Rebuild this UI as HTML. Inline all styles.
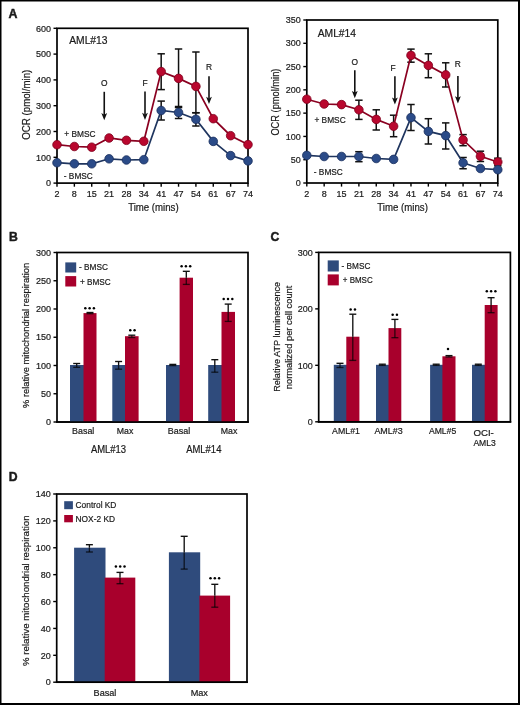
<!DOCTYPE html>
<html><head><meta charset="utf-8"><style>
html,body{margin:0;padding:0;background:#fff;}
svg{display:block;will-change:transform;font-family:"Liberation Sans", sans-serif;}
text{stroke:#1a1a1a;stroke-width:0.2px;}
</style></head><body>
<svg width="520" height="705" viewBox="0 0 520 705" font-family='"Liberation Sans", sans-serif' fill="#1a1a1a">
<rect x="0.00" y="0.00" width="520.00" height="705.00" fill="#ffffff"/>
<rect x="0.00" y="0.00" width="1.50" height="705.00" fill="#000"/>
<rect x="0.00" y="0.00" width="520.00" height="1.50" fill="#000"/>
<rect x="518.00" y="0.00" width="2.00" height="705.00" fill="#000"/>
<rect x="0.00" y="703.00" width="520.00" height="2.00" fill="#000"/>
<text x="8.50" y="17.60" font-size="12.4" text-anchor="start" font-weight="bold" style="stroke-width:0.45px">A</text>
<text x="9.00" y="241.30" font-size="12.2" text-anchor="start" font-weight="bold" style="stroke-width:0.45px">B</text>
<text x="270.60" y="241.30" font-size="12.2" text-anchor="start" font-weight="bold" style="stroke-width:0.45px">C</text>
<text x="8.80" y="480.90" font-size="12.2" text-anchor="start" font-weight="bold" style="stroke-width:0.45px">D</text>
<rect x="57.00" y="28.30" width="191.00" height="154.80" fill="none" stroke="#000" stroke-width="1.7"/>
<line x1="53.50" y1="183.10" x2="57.00" y2="183.10" stroke="#000" stroke-width="1.4"/>
<text x="51.00" y="186.30" font-size="9.0" text-anchor="end">0</text>
<line x1="53.50" y1="157.30" x2="57.00" y2="157.30" stroke="#000" stroke-width="1.4"/>
<text x="51.00" y="160.50" font-size="9.0" text-anchor="end">100</text>
<line x1="53.50" y1="131.50" x2="57.00" y2="131.50" stroke="#000" stroke-width="1.4"/>
<text x="51.00" y="134.70" font-size="9.0" text-anchor="end">200</text>
<line x1="53.50" y1="105.70" x2="57.00" y2="105.70" stroke="#000" stroke-width="1.4"/>
<text x="51.00" y="108.90" font-size="9.0" text-anchor="end">300</text>
<line x1="53.50" y1="79.90" x2="57.00" y2="79.90" stroke="#000" stroke-width="1.4"/>
<text x="51.00" y="83.10" font-size="9.0" text-anchor="end">400</text>
<line x1="53.50" y1="54.10" x2="57.00" y2="54.10" stroke="#000" stroke-width="1.4"/>
<text x="51.00" y="57.30" font-size="9.0" text-anchor="end">500</text>
<line x1="53.50" y1="28.30" x2="57.00" y2="28.30" stroke="#000" stroke-width="1.4"/>
<text x="51.00" y="31.50" font-size="9.0" text-anchor="end">600</text>
<line x1="57.00" y1="183.10" x2="57.00" y2="186.70" stroke="#000" stroke-width="1.4"/>
<text x="57.00" y="196.70" font-size="9.0" text-anchor="middle">2</text>
<line x1="74.36" y1="183.10" x2="74.36" y2="186.70" stroke="#000" stroke-width="1.4"/>
<text x="74.36" y="196.70" font-size="9.0" text-anchor="middle">8</text>
<line x1="91.73" y1="183.10" x2="91.73" y2="186.70" stroke="#000" stroke-width="1.4"/>
<text x="91.73" y="196.70" font-size="9.0" text-anchor="middle">15</text>
<line x1="109.09" y1="183.10" x2="109.09" y2="186.70" stroke="#000" stroke-width="1.4"/>
<text x="109.09" y="196.70" font-size="9.0" text-anchor="middle">21</text>
<line x1="126.45" y1="183.10" x2="126.45" y2="186.70" stroke="#000" stroke-width="1.4"/>
<text x="126.45" y="196.70" font-size="9.0" text-anchor="middle">28</text>
<line x1="143.82" y1="183.10" x2="143.82" y2="186.70" stroke="#000" stroke-width="1.4"/>
<text x="143.82" y="196.70" font-size="9.0" text-anchor="middle">34</text>
<line x1="161.18" y1="183.10" x2="161.18" y2="186.70" stroke="#000" stroke-width="1.4"/>
<text x="161.18" y="196.70" font-size="9.0" text-anchor="middle">41</text>
<line x1="178.55" y1="183.10" x2="178.55" y2="186.70" stroke="#000" stroke-width="1.4"/>
<text x="178.55" y="196.70" font-size="9.0" text-anchor="middle">47</text>
<line x1="195.91" y1="183.10" x2="195.91" y2="186.70" stroke="#000" stroke-width="1.4"/>
<text x="195.91" y="196.70" font-size="9.0" text-anchor="middle">54</text>
<line x1="213.27" y1="183.10" x2="213.27" y2="186.70" stroke="#000" stroke-width="1.4"/>
<text x="213.27" y="196.70" font-size="9.0" text-anchor="middle">61</text>
<line x1="230.64" y1="183.10" x2="230.64" y2="186.70" stroke="#000" stroke-width="1.4"/>
<text x="230.64" y="196.70" font-size="9.0" text-anchor="middle">67</text>
<line x1="248.00" y1="183.10" x2="248.00" y2="186.70" stroke="#000" stroke-width="1.4"/>
<text x="248.00" y="196.70" font-size="9.0" text-anchor="middle">74</text>
<text x="153.40" y="210.50" font-size="10.2" text-anchor="middle" textLength="50.5" lengthAdjust="spacingAndGlyphs">Time (mins)</text>
<text x="29.90" y="104.70" font-size="10.0" text-anchor="middle" textLength="70" lengthAdjust="spacingAndGlyphs" transform="rotate(-90 29.90 104.70)">OCR (pmol/min)</text>
<text x="69.20" y="44.30" font-size="10.3" text-anchor="start">AML#13</text>
<text x="104.25" y="86.30" font-size="8.4" text-anchor="middle">O</text>
<line x1="104.25" y1="91.80" x2="104.25" y2="115.10" stroke="#111" stroke-width="1.6"/>
<path d="M101.35 113.10 L104.25 114.70 L107.15 113.10 L104.25 120.30 Z" fill="#111"/>
<text x="145.00" y="86.30" font-size="8.4" text-anchor="middle">F</text>
<line x1="145.00" y1="91.50" x2="145.00" y2="114.80" stroke="#111" stroke-width="1.6"/>
<path d="M142.10 112.80 L145.00 114.40 L147.90 112.80 L145.00 120.00 Z" fill="#111"/>
<text x="209.00" y="69.70" font-size="8.4" text-anchor="middle">R</text>
<line x1="209.00" y1="76.30" x2="209.00" y2="98.80" stroke="#111" stroke-width="1.6"/>
<path d="M206.10 96.80 L209.00 98.40 L211.90 96.80 L209.00 104.00 Z" fill="#111"/>
<text x="64.20" y="136.70" font-size="8.9" text-anchor="start" textLength="31.3" lengthAdjust="spacingAndGlyphs">+ BMSC</text>
<text x="63.80" y="179.40" font-size="8.9" text-anchor="start" textLength="29.0" lengthAdjust="spacingAndGlyphs">- BMSC</text>
<line x1="161.18" y1="53.80" x2="161.18" y2="89.60" stroke="#111" stroke-width="1.5"/>
<line x1="157.48" y1="53.80" x2="164.88" y2="53.80" stroke="#111" stroke-width="1.5"/>
<line x1="157.48" y1="89.60" x2="164.88" y2="89.60" stroke="#111" stroke-width="1.5"/>
<line x1="178.55" y1="49.00" x2="178.55" y2="107.60" stroke="#111" stroke-width="1.5"/>
<line x1="174.85" y1="49.00" x2="182.25" y2="49.00" stroke="#111" stroke-width="1.5"/>
<line x1="174.85" y1="107.60" x2="182.25" y2="107.60" stroke="#111" stroke-width="1.5"/>
<line x1="195.91" y1="52.00" x2="195.91" y2="112.80" stroke="#111" stroke-width="1.5"/>
<line x1="192.21" y1="52.00" x2="199.61" y2="52.00" stroke="#111" stroke-width="1.5"/>
<line x1="192.21" y1="112.80" x2="199.61" y2="112.80" stroke="#111" stroke-width="1.5"/>
<line x1="161.18" y1="101.10" x2="161.18" y2="120.00" stroke="#111" stroke-width="1.5"/>
<line x1="157.48" y1="101.10" x2="164.88" y2="101.10" stroke="#111" stroke-width="1.5"/>
<line x1="157.48" y1="120.00" x2="164.88" y2="120.00" stroke="#111" stroke-width="1.5"/>
<line x1="178.55" y1="106.50" x2="178.55" y2="118.50" stroke="#111" stroke-width="1.5"/>
<line x1="174.85" y1="106.50" x2="182.25" y2="106.50" stroke="#111" stroke-width="1.5"/>
<line x1="174.85" y1="118.50" x2="182.25" y2="118.50" stroke="#111" stroke-width="1.5"/>
<line x1="195.91" y1="112.70" x2="195.91" y2="126.00" stroke="#111" stroke-width="1.5"/>
<line x1="192.21" y1="112.70" x2="199.61" y2="112.70" stroke="#111" stroke-width="1.5"/>
<line x1="192.21" y1="126.00" x2="199.61" y2="126.00" stroke="#111" stroke-width="1.5"/>
<polyline points="57.00,144.70 74.36,146.50 91.73,147.20 109.09,138.00 126.45,140.30 143.82,141.30 161.18,71.60 178.55,78.40 195.91,86.40 213.27,118.70 230.64,135.70 248.00,144.60" fill="none" stroke="#8a0020" stroke-width="1.7"/>
<polyline points="57.00,162.70 74.36,163.80 91.73,163.80 109.09,158.80 126.45,160.00 143.82,159.70 161.18,110.50 178.55,112.50 195.91,119.30 213.27,141.40 230.64,155.60 248.00,160.90" fill="none" stroke="#1f355f" stroke-width="1.7"/>
<circle cx="57.00" cy="144.70" r="4.3" fill="#b9072e" stroke="#7e001c" stroke-width="0.8"/>
<circle cx="74.36" cy="146.50" r="4.3" fill="#b9072e" stroke="#7e001c" stroke-width="0.8"/>
<circle cx="91.73" cy="147.20" r="4.3" fill="#b9072e" stroke="#7e001c" stroke-width="0.8"/>
<circle cx="109.09" cy="138.00" r="4.3" fill="#b9072e" stroke="#7e001c" stroke-width="0.8"/>
<circle cx="126.45" cy="140.30" r="4.3" fill="#b9072e" stroke="#7e001c" stroke-width="0.8"/>
<circle cx="143.82" cy="141.30" r="4.3" fill="#b9072e" stroke="#7e001c" stroke-width="0.8"/>
<circle cx="161.18" cy="71.60" r="4.3" fill="#b9072e" stroke="#7e001c" stroke-width="0.8"/>
<circle cx="178.55" cy="78.40" r="4.3" fill="#b9072e" stroke="#7e001c" stroke-width="0.8"/>
<circle cx="195.91" cy="86.40" r="4.3" fill="#b9072e" stroke="#7e001c" stroke-width="0.8"/>
<circle cx="213.27" cy="118.70" r="4.3" fill="#b9072e" stroke="#7e001c" stroke-width="0.8"/>
<circle cx="230.64" cy="135.70" r="4.3" fill="#b9072e" stroke="#7e001c" stroke-width="0.8"/>
<circle cx="248.00" cy="144.60" r="4.3" fill="#b9072e" stroke="#7e001c" stroke-width="0.8"/>
<circle cx="57.00" cy="162.70" r="4.3" fill="#2b4b88" stroke="#1b305e" stroke-width="0.8"/>
<circle cx="74.36" cy="163.80" r="4.3" fill="#2b4b88" stroke="#1b305e" stroke-width="0.8"/>
<circle cx="91.73" cy="163.80" r="4.3" fill="#2b4b88" stroke="#1b305e" stroke-width="0.8"/>
<circle cx="109.09" cy="158.80" r="4.3" fill="#2b4b88" stroke="#1b305e" stroke-width="0.8"/>
<circle cx="126.45" cy="160.00" r="4.3" fill="#2b4b88" stroke="#1b305e" stroke-width="0.8"/>
<circle cx="143.82" cy="159.70" r="4.3" fill="#2b4b88" stroke="#1b305e" stroke-width="0.8"/>
<circle cx="161.18" cy="110.50" r="4.3" fill="#2b4b88" stroke="#1b305e" stroke-width="0.8"/>
<circle cx="178.55" cy="112.50" r="4.3" fill="#2b4b88" stroke="#1b305e" stroke-width="0.8"/>
<circle cx="195.91" cy="119.30" r="4.3" fill="#2b4b88" stroke="#1b305e" stroke-width="0.8"/>
<circle cx="213.27" cy="141.40" r="4.3" fill="#2b4b88" stroke="#1b305e" stroke-width="0.8"/>
<circle cx="230.64" cy="155.60" r="4.3" fill="#2b4b88" stroke="#1b305e" stroke-width="0.8"/>
<circle cx="248.00" cy="160.90" r="4.3" fill="#2b4b88" stroke="#1b305e" stroke-width="0.8"/>
<rect x="306.80" y="20.00" width="191.00" height="163.00" fill="none" stroke="#000" stroke-width="1.7"/>
<line x1="303.30" y1="183.00" x2="306.80" y2="183.00" stroke="#000" stroke-width="1.4"/>
<text x="300.80" y="186.20" font-size="9.0" text-anchor="end">0</text>
<line x1="303.30" y1="159.71" x2="306.80" y2="159.71" stroke="#000" stroke-width="1.4"/>
<text x="300.80" y="162.91" font-size="9.0" text-anchor="end">50</text>
<line x1="303.30" y1="136.43" x2="306.80" y2="136.43" stroke="#000" stroke-width="1.4"/>
<text x="300.80" y="139.63" font-size="9.0" text-anchor="end">100</text>
<line x1="303.30" y1="113.14" x2="306.80" y2="113.14" stroke="#000" stroke-width="1.4"/>
<text x="300.80" y="116.34" font-size="9.0" text-anchor="end">150</text>
<line x1="303.30" y1="89.86" x2="306.80" y2="89.86" stroke="#000" stroke-width="1.4"/>
<text x="300.80" y="93.06" font-size="9.0" text-anchor="end">200</text>
<line x1="303.30" y1="66.57" x2="306.80" y2="66.57" stroke="#000" stroke-width="1.4"/>
<text x="300.80" y="69.77" font-size="9.0" text-anchor="end">250</text>
<line x1="303.30" y1="43.29" x2="306.80" y2="43.29" stroke="#000" stroke-width="1.4"/>
<text x="300.80" y="46.49" font-size="9.0" text-anchor="end">300</text>
<line x1="303.30" y1="20.00" x2="306.80" y2="20.00" stroke="#000" stroke-width="1.4"/>
<text x="300.80" y="23.20" font-size="9.0" text-anchor="end">350</text>
<line x1="306.80" y1="183.00" x2="306.80" y2="186.60" stroke="#000" stroke-width="1.4"/>
<text x="306.80" y="196.60" font-size="9.0" text-anchor="middle">2</text>
<line x1="324.16" y1="183.00" x2="324.16" y2="186.60" stroke="#000" stroke-width="1.4"/>
<text x="324.16" y="196.60" font-size="9.0" text-anchor="middle">8</text>
<line x1="341.53" y1="183.00" x2="341.53" y2="186.60" stroke="#000" stroke-width="1.4"/>
<text x="341.53" y="196.60" font-size="9.0" text-anchor="middle">15</text>
<line x1="358.89" y1="183.00" x2="358.89" y2="186.60" stroke="#000" stroke-width="1.4"/>
<text x="358.89" y="196.60" font-size="9.0" text-anchor="middle">21</text>
<line x1="376.25" y1="183.00" x2="376.25" y2="186.60" stroke="#000" stroke-width="1.4"/>
<text x="376.25" y="196.60" font-size="9.0" text-anchor="middle">28</text>
<line x1="393.62" y1="183.00" x2="393.62" y2="186.60" stroke="#000" stroke-width="1.4"/>
<text x="393.62" y="196.60" font-size="9.0" text-anchor="middle">34</text>
<line x1="410.98" y1="183.00" x2="410.98" y2="186.60" stroke="#000" stroke-width="1.4"/>
<text x="410.98" y="196.60" font-size="9.0" text-anchor="middle">41</text>
<line x1="428.35" y1="183.00" x2="428.35" y2="186.60" stroke="#000" stroke-width="1.4"/>
<text x="428.35" y="196.60" font-size="9.0" text-anchor="middle">47</text>
<line x1="445.71" y1="183.00" x2="445.71" y2="186.60" stroke="#000" stroke-width="1.4"/>
<text x="445.71" y="196.60" font-size="9.0" text-anchor="middle">54</text>
<line x1="463.07" y1="183.00" x2="463.07" y2="186.60" stroke="#000" stroke-width="1.4"/>
<text x="463.07" y="196.60" font-size="9.0" text-anchor="middle">61</text>
<line x1="480.44" y1="183.00" x2="480.44" y2="186.60" stroke="#000" stroke-width="1.4"/>
<text x="480.44" y="196.60" font-size="9.0" text-anchor="middle">67</text>
<line x1="497.80" y1="183.00" x2="497.80" y2="186.60" stroke="#000" stroke-width="1.4"/>
<text x="497.80" y="196.60" font-size="9.0" text-anchor="middle">74</text>
<text x="402.60" y="210.60" font-size="10.2" text-anchor="middle" textLength="50.5" lengthAdjust="spacingAndGlyphs">Time (mins)</text>
<text x="278.90" y="102.10" font-size="10.0" text-anchor="middle" textLength="67" lengthAdjust="spacingAndGlyphs" transform="rotate(-90 278.90 102.10)">OCR (pmol/min)</text>
<text x="317.70" y="36.80" font-size="10.3" text-anchor="start">AML#14</text>
<text x="354.80" y="65.00" font-size="8.4" text-anchor="middle">O</text>
<line x1="354.80" y1="70.20" x2="354.80" y2="93.00" stroke="#111" stroke-width="1.6"/>
<path d="M351.90 91.00 L354.80 92.60 L357.70 91.00 L354.80 98.20 Z" fill="#111"/>
<text x="393.00" y="70.80" font-size="8.4" text-anchor="middle">F</text>
<line x1="394.90" y1="76.20" x2="394.90" y2="99.40" stroke="#111" stroke-width="1.6"/>
<path d="M392.00 97.40 L394.90 99.00 L397.80 97.40 L394.90 104.60 Z" fill="#111"/>
<text x="457.90" y="67.40" font-size="8.4" text-anchor="middle">R</text>
<line x1="457.90" y1="76.00" x2="457.90" y2="98.20" stroke="#111" stroke-width="1.6"/>
<path d="M455.00 96.20 L457.90 97.80 L460.80 96.20 L457.90 103.40 Z" fill="#111"/>
<text x="314.40" y="123.30" font-size="8.9" text-anchor="start" textLength="31.3" lengthAdjust="spacingAndGlyphs">+ BMSC</text>
<text x="313.80" y="174.80" font-size="8.9" text-anchor="start" textLength="29.0" lengthAdjust="spacingAndGlyphs">- BMSC</text>
<line x1="358.89" y1="100.20" x2="358.89" y2="119.40" stroke="#111" stroke-width="1.5"/>
<line x1="355.19" y1="100.20" x2="362.59" y2="100.20" stroke="#111" stroke-width="1.5"/>
<line x1="355.19" y1="119.40" x2="362.59" y2="119.40" stroke="#111" stroke-width="1.5"/>
<line x1="376.25" y1="109.80" x2="376.25" y2="130.00" stroke="#111" stroke-width="1.5"/>
<line x1="372.55" y1="109.80" x2="379.95" y2="109.80" stroke="#111" stroke-width="1.5"/>
<line x1="372.55" y1="130.00" x2="379.95" y2="130.00" stroke="#111" stroke-width="1.5"/>
<line x1="393.62" y1="115.20" x2="393.62" y2="136.70" stroke="#111" stroke-width="1.5"/>
<line x1="389.92" y1="115.20" x2="397.32" y2="115.20" stroke="#111" stroke-width="1.5"/>
<line x1="389.92" y1="136.70" x2="397.32" y2="136.70" stroke="#111" stroke-width="1.5"/>
<line x1="410.98" y1="49.10" x2="410.98" y2="62.20" stroke="#111" stroke-width="1.5"/>
<line x1="407.28" y1="49.10" x2="414.68" y2="49.10" stroke="#111" stroke-width="1.5"/>
<line x1="407.28" y1="62.20" x2="414.68" y2="62.20" stroke="#111" stroke-width="1.5"/>
<line x1="428.35" y1="53.80" x2="428.35" y2="77.70" stroke="#111" stroke-width="1.5"/>
<line x1="424.65" y1="53.80" x2="432.05" y2="53.80" stroke="#111" stroke-width="1.5"/>
<line x1="424.65" y1="77.70" x2="432.05" y2="77.70" stroke="#111" stroke-width="1.5"/>
<line x1="445.71" y1="62.80" x2="445.71" y2="87.00" stroke="#111" stroke-width="1.5"/>
<line x1="442.01" y1="62.80" x2="449.41" y2="62.80" stroke="#111" stroke-width="1.5"/>
<line x1="442.01" y1="87.00" x2="449.41" y2="87.00" stroke="#111" stroke-width="1.5"/>
<line x1="463.07" y1="134.60" x2="463.07" y2="145.70" stroke="#111" stroke-width="1.5"/>
<line x1="459.37" y1="134.60" x2="466.77" y2="134.60" stroke="#111" stroke-width="1.5"/>
<line x1="459.37" y1="145.70" x2="466.77" y2="145.70" stroke="#111" stroke-width="1.5"/>
<line x1="480.44" y1="151.20" x2="480.44" y2="161.50" stroke="#111" stroke-width="1.5"/>
<line x1="476.74" y1="151.20" x2="484.14" y2="151.20" stroke="#111" stroke-width="1.5"/>
<line x1="476.74" y1="161.50" x2="484.14" y2="161.50" stroke="#111" stroke-width="1.5"/>
<line x1="497.80" y1="158.20" x2="497.80" y2="165.80" stroke="#111" stroke-width="1.5"/>
<line x1="494.10" y1="158.20" x2="501.50" y2="158.20" stroke="#111" stroke-width="1.5"/>
<line x1="494.10" y1="165.80" x2="501.50" y2="165.80" stroke="#111" stroke-width="1.5"/>
<line x1="358.89" y1="151.70" x2="358.89" y2="161.70" stroke="#111" stroke-width="1.5"/>
<line x1="355.19" y1="151.70" x2="362.59" y2="151.70" stroke="#111" stroke-width="1.5"/>
<line x1="355.19" y1="161.70" x2="362.59" y2="161.70" stroke="#111" stroke-width="1.5"/>
<line x1="410.98" y1="104.50" x2="410.98" y2="130.50" stroke="#111" stroke-width="1.5"/>
<line x1="407.28" y1="104.50" x2="414.68" y2="104.50" stroke="#111" stroke-width="1.5"/>
<line x1="407.28" y1="130.50" x2="414.68" y2="130.50" stroke="#111" stroke-width="1.5"/>
<line x1="428.35" y1="118.70" x2="428.35" y2="144.00" stroke="#111" stroke-width="1.5"/>
<line x1="424.65" y1="118.70" x2="432.05" y2="118.70" stroke="#111" stroke-width="1.5"/>
<line x1="424.65" y1="144.00" x2="432.05" y2="144.00" stroke="#111" stroke-width="1.5"/>
<line x1="445.71" y1="122.90" x2="445.71" y2="149.00" stroke="#111" stroke-width="1.5"/>
<line x1="442.01" y1="122.90" x2="449.41" y2="122.90" stroke="#111" stroke-width="1.5"/>
<line x1="442.01" y1="149.00" x2="449.41" y2="149.00" stroke="#111" stroke-width="1.5"/>
<line x1="463.07" y1="157.50" x2="463.07" y2="168.75" stroke="#111" stroke-width="1.5"/>
<line x1="459.37" y1="157.50" x2="466.77" y2="157.50" stroke="#111" stroke-width="1.5"/>
<line x1="459.37" y1="168.75" x2="466.77" y2="168.75" stroke="#111" stroke-width="1.5"/>
<polyline points="306.80,99.20 324.16,104.00 341.53,104.60 358.89,109.80 376.25,119.40 393.62,126.20 410.98,55.40 428.35,65.40 445.71,74.90 463.07,139.90 480.44,156.30 497.80,162.00" fill="none" stroke="#8a0020" stroke-width="1.7"/>
<polyline points="306.80,155.40 324.16,156.50 341.53,156.50 358.89,156.50 376.25,158.50 393.62,159.40 410.98,117.60 428.35,131.40 445.71,135.60 463.07,162.80 480.44,168.50 497.80,169.70" fill="none" stroke="#1f355f" stroke-width="1.7"/>
<circle cx="306.80" cy="99.20" r="4.3" fill="#b9072e" stroke="#7e001c" stroke-width="0.8"/>
<circle cx="324.16" cy="104.00" r="4.3" fill="#b9072e" stroke="#7e001c" stroke-width="0.8"/>
<circle cx="341.53" cy="104.60" r="4.3" fill="#b9072e" stroke="#7e001c" stroke-width="0.8"/>
<circle cx="358.89" cy="109.80" r="4.3" fill="#b9072e" stroke="#7e001c" stroke-width="0.8"/>
<circle cx="376.25" cy="119.40" r="4.3" fill="#b9072e" stroke="#7e001c" stroke-width="0.8"/>
<circle cx="393.62" cy="126.20" r="4.3" fill="#b9072e" stroke="#7e001c" stroke-width="0.8"/>
<circle cx="410.98" cy="55.40" r="4.3" fill="#b9072e" stroke="#7e001c" stroke-width="0.8"/>
<circle cx="428.35" cy="65.40" r="4.3" fill="#b9072e" stroke="#7e001c" stroke-width="0.8"/>
<circle cx="445.71" cy="74.90" r="4.3" fill="#b9072e" stroke="#7e001c" stroke-width="0.8"/>
<circle cx="463.07" cy="139.90" r="4.3" fill="#b9072e" stroke="#7e001c" stroke-width="0.8"/>
<circle cx="480.44" cy="156.30" r="4.3" fill="#b9072e" stroke="#7e001c" stroke-width="0.8"/>
<circle cx="497.80" cy="162.00" r="4.3" fill="#b9072e" stroke="#7e001c" stroke-width="0.8"/>
<circle cx="306.80" cy="155.40" r="4.3" fill="#2b4b88" stroke="#1b305e" stroke-width="0.8"/>
<circle cx="324.16" cy="156.50" r="4.3" fill="#2b4b88" stroke="#1b305e" stroke-width="0.8"/>
<circle cx="341.53" cy="156.50" r="4.3" fill="#2b4b88" stroke="#1b305e" stroke-width="0.8"/>
<circle cx="358.89" cy="156.50" r="4.3" fill="#2b4b88" stroke="#1b305e" stroke-width="0.8"/>
<circle cx="376.25" cy="158.50" r="4.3" fill="#2b4b88" stroke="#1b305e" stroke-width="0.8"/>
<circle cx="393.62" cy="159.40" r="4.3" fill="#2b4b88" stroke="#1b305e" stroke-width="0.8"/>
<circle cx="410.98" cy="117.60" r="4.3" fill="#2b4b88" stroke="#1b305e" stroke-width="0.8"/>
<circle cx="428.35" cy="131.40" r="4.3" fill="#2b4b88" stroke="#1b305e" stroke-width="0.8"/>
<circle cx="445.71" cy="135.60" r="4.3" fill="#2b4b88" stroke="#1b305e" stroke-width="0.8"/>
<circle cx="463.07" cy="162.80" r="4.3" fill="#2b4b88" stroke="#1b305e" stroke-width="0.8"/>
<circle cx="480.44" cy="168.50" r="4.3" fill="#2b4b88" stroke="#1b305e" stroke-width="0.8"/>
<circle cx="497.80" cy="169.70" r="4.3" fill="#2b4b88" stroke="#1b305e" stroke-width="0.8"/>
<rect x="57.00" y="252.50" width="191.00" height="169.50" fill="none" stroke="#000" stroke-width="1.7"/>
<rect x="70.00" y="365.00" width="14.30" height="57.00" fill="#2f4b7c"/>
<rect x="83.50" y="313.10" width="13.00" height="108.90" fill="#a8002c"/>
<rect x="112.30" y="365.00" width="13.50" height="57.00" fill="#2f4b7c"/>
<rect x="125.00" y="336.20" width="13.60" height="85.80" fill="#a8002c"/>
<rect x="166.00" y="365.00" width="14.40" height="57.00" fill="#2f4b7c"/>
<rect x="179.60" y="277.70" width="13.40" height="144.30" fill="#a8002c"/>
<rect x="208.20" y="365.00" width="14.10" height="57.00" fill="#2f4b7c"/>
<rect x="221.50" y="311.90" width="13.50" height="110.10" fill="#a8002c"/>
<line x1="56.15" y1="422.00" x2="248.85" y2="422.00" stroke="#000" stroke-width="1.7"/>
<line x1="53.50" y1="422.00" x2="57.00" y2="422.00" stroke="#000" stroke-width="1.4"/>
<text x="51.00" y="425.20" font-size="9.0" text-anchor="end">0</text>
<line x1="53.50" y1="393.75" x2="57.00" y2="393.75" stroke="#000" stroke-width="1.4"/>
<text x="51.00" y="396.95" font-size="9.0" text-anchor="end">50</text>
<line x1="53.50" y1="365.50" x2="57.00" y2="365.50" stroke="#000" stroke-width="1.4"/>
<text x="51.00" y="368.70" font-size="9.0" text-anchor="end">100</text>
<line x1="53.50" y1="337.25" x2="57.00" y2="337.25" stroke="#000" stroke-width="1.4"/>
<text x="51.00" y="340.45" font-size="9.0" text-anchor="end">150</text>
<line x1="53.50" y1="309.00" x2="57.00" y2="309.00" stroke="#000" stroke-width="1.4"/>
<text x="51.00" y="312.20" font-size="9.0" text-anchor="end">200</text>
<line x1="53.50" y1="280.75" x2="57.00" y2="280.75" stroke="#000" stroke-width="1.4"/>
<text x="51.00" y="283.95" font-size="9.0" text-anchor="end">250</text>
<line x1="53.50" y1="252.50" x2="57.00" y2="252.50" stroke="#000" stroke-width="1.4"/>
<text x="51.00" y="255.70" font-size="9.0" text-anchor="end">300</text>
<line x1="76.70" y1="363.50" x2="76.70" y2="365.00" stroke="#111" stroke-width="1.35"/>
<line x1="73.20" y1="363.50" x2="80.20" y2="363.50" stroke="#111" stroke-width="1.35"/>
<g stroke-opacity="0.7">
<line x1="76.70" y1="365.00" x2="76.70" y2="367.30" stroke="#000" stroke-width="1.35"/>
<line x1="73.20" y1="367.30" x2="80.20" y2="367.30" stroke="#000" stroke-width="1.35"/>
</g>
<line x1="118.60" y1="361.50" x2="118.60" y2="365.00" stroke="#111" stroke-width="1.35"/>
<line x1="115.10" y1="361.50" x2="122.10" y2="361.50" stroke="#111" stroke-width="1.35"/>
<g stroke-opacity="0.7">
<line x1="118.60" y1="365.00" x2="118.60" y2="369.20" stroke="#000" stroke-width="1.35"/>
<line x1="115.10" y1="369.20" x2="122.10" y2="369.20" stroke="#000" stroke-width="1.35"/>
</g>
<line x1="172.80" y1="364.40" x2="172.80" y2="365.00" stroke="#111" stroke-width="1.35"/>
<line x1="169.30" y1="364.40" x2="176.30" y2="364.40" stroke="#111" stroke-width="1.35"/>
<g stroke-opacity="0.7">
<line x1="172.80" y1="365.00" x2="172.80" y2="365.60" stroke="#000" stroke-width="1.35"/>
<line x1="169.30" y1="365.60" x2="176.30" y2="365.60" stroke="#000" stroke-width="1.35"/>
</g>
<line x1="90.00" y1="312.50" x2="90.00" y2="313.10" stroke="#111" stroke-width="1.35"/>
<line x1="86.50" y1="312.50" x2="93.50" y2="312.50" stroke="#111" stroke-width="1.35"/>
<g stroke-opacity="0.7">
<line x1="90.00" y1="313.10" x2="90.00" y2="313.70" stroke="#000" stroke-width="1.35"/>
<line x1="86.50" y1="313.70" x2="93.50" y2="313.70" stroke="#000" stroke-width="1.35"/>
</g>
<line x1="131.80" y1="335.20" x2="131.80" y2="336.20" stroke="#111" stroke-width="1.35"/>
<line x1="128.30" y1="335.20" x2="135.30" y2="335.20" stroke="#111" stroke-width="1.35"/>
<g stroke-opacity="0.7">
<line x1="131.80" y1="336.20" x2="131.80" y2="337.50" stroke="#000" stroke-width="1.35"/>
<line x1="128.30" y1="337.50" x2="135.30" y2="337.50" stroke="#000" stroke-width="1.35"/>
</g>
<line x1="186.30" y1="271.30" x2="186.30" y2="277.70" stroke="#111" stroke-width="1.35"/>
<line x1="182.80" y1="271.30" x2="189.80" y2="271.30" stroke="#111" stroke-width="1.35"/>
<g stroke-opacity="0.7">
<line x1="186.30" y1="277.70" x2="186.30" y2="284.40" stroke="#000" stroke-width="1.35"/>
<line x1="182.80" y1="284.40" x2="189.80" y2="284.40" stroke="#000" stroke-width="1.35"/>
</g>
<line x1="214.80" y1="359.70" x2="214.80" y2="365.00" stroke="#111" stroke-width="1.35"/>
<line x1="211.30" y1="359.70" x2="218.30" y2="359.70" stroke="#111" stroke-width="1.35"/>
<g stroke-opacity="0.7">
<line x1="214.80" y1="365.00" x2="214.80" y2="372.20" stroke="#000" stroke-width="1.35"/>
<line x1="211.30" y1="372.20" x2="218.30" y2="372.20" stroke="#000" stroke-width="1.35"/>
</g>
<line x1="228.20" y1="304.10" x2="228.20" y2="311.90" stroke="#111" stroke-width="1.35"/>
<line x1="224.70" y1="304.10" x2="231.70" y2="304.10" stroke="#111" stroke-width="1.35"/>
<g stroke-opacity="0.7">
<line x1="228.20" y1="311.90" x2="228.20" y2="321.40" stroke="#000" stroke-width="1.35"/>
<line x1="224.70" y1="321.40" x2="231.70" y2="321.40" stroke="#000" stroke-width="1.35"/>
</g>
<circle cx="85.30" cy="308.20" r="1.25" fill="#000"/>
<circle cx="89.60" cy="308.20" r="1.25" fill="#000"/>
<circle cx="93.90" cy="308.20" r="1.25" fill="#000"/>
<circle cx="130.25" cy="330.30" r="1.25" fill="#000"/>
<circle cx="134.55" cy="330.30" r="1.25" fill="#000"/>
<circle cx="181.60" cy="266.30" r="1.25" fill="#000"/>
<circle cx="185.90" cy="266.30" r="1.25" fill="#000"/>
<circle cx="190.20" cy="266.30" r="1.25" fill="#000"/>
<circle cx="223.70" cy="299.00" r="1.25" fill="#000"/>
<circle cx="228.00" cy="299.00" r="1.25" fill="#000"/>
<circle cx="232.30" cy="299.00" r="1.25" fill="#000"/>
<rect x="65.30" y="262.40" width="10.90" height="10.10" fill="#2f4b7c"/>
<rect x="65.30" y="276.10" width="10.90" height="10.40" fill="#a8002c"/>
<text x="79.00" y="270.40" font-size="8.9" text-anchor="start" textLength="29.0" lengthAdjust="spacingAndGlyphs">- BMSC</text>
<text x="79.90" y="285.20" font-size="8.9" text-anchor="start" textLength="30.8" lengthAdjust="spacingAndGlyphs">+ BMSC</text>
<text x="83.20" y="434.00" font-size="9.4" text-anchor="middle" textLength="22.2" lengthAdjust="spacingAndGlyphs">Basal</text>
<text x="125.00" y="434.00" font-size="9.4" text-anchor="middle" textLength="16.5" lengthAdjust="spacingAndGlyphs">Max</text>
<text x="179.00" y="434.00" font-size="9.4" text-anchor="middle" textLength="22.4" lengthAdjust="spacingAndGlyphs">Basal</text>
<text x="229.00" y="434.00" font-size="9.4" text-anchor="middle" textLength="16.6" lengthAdjust="spacingAndGlyphs">Max</text>
<text x="108.50" y="453.30" font-size="10.2" text-anchor="middle" textLength="35.2" lengthAdjust="spacingAndGlyphs">AML#13</text>
<text x="203.80" y="452.90" font-size="10.2" text-anchor="middle" textLength="35.2" lengthAdjust="spacingAndGlyphs">AML#14</text>
<text x="29.30" y="335.40" font-size="9.8" text-anchor="middle" textLength="145" lengthAdjust="spacingAndGlyphs" transform="rotate(-90 29.30 335.40)">% relative mitochondrial respiration</text>
<rect x="318.70" y="252.40" width="191.70" height="169.40" fill="none" stroke="#000" stroke-width="1.7"/>
<rect x="333.80" y="364.80" width="13.30" height="57.00" fill="#2f4b7c"/>
<rect x="346.30" y="336.70" width="13.10" height="85.10" fill="#a8002c"/>
<rect x="376.00" y="364.80" width="13.30" height="57.00" fill="#2f4b7c"/>
<rect x="388.50" y="328.10" width="12.80" height="93.70" fill="#a8002c"/>
<rect x="430.10" y="364.80" width="13.10" height="57.00" fill="#2f4b7c"/>
<rect x="442.40" y="356.30" width="13.10" height="65.50" fill="#a8002c"/>
<rect x="472.00" y="364.80" width="13.50" height="57.00" fill="#2f4b7c"/>
<rect x="484.70" y="305.00" width="12.90" height="116.80" fill="#a8002c"/>
<line x1="317.85" y1="421.80" x2="511.25" y2="421.80" stroke="#000" stroke-width="1.7"/>
<line x1="315.20" y1="421.80" x2="318.70" y2="421.80" stroke="#000" stroke-width="1.4"/>
<text x="312.70" y="425.00" font-size="9.0" text-anchor="end">0</text>
<line x1="315.20" y1="365.33" x2="318.70" y2="365.33" stroke="#000" stroke-width="1.4"/>
<text x="312.70" y="368.53" font-size="9.0" text-anchor="end">100</text>
<line x1="315.20" y1="308.87" x2="318.70" y2="308.87" stroke="#000" stroke-width="1.4"/>
<text x="312.70" y="312.07" font-size="9.0" text-anchor="end">200</text>
<line x1="315.20" y1="252.40" x2="318.70" y2="252.40" stroke="#000" stroke-width="1.4"/>
<text x="312.70" y="255.60" font-size="9.0" text-anchor="end">300</text>
<line x1="340.00" y1="363.30" x2="340.00" y2="364.80" stroke="#111" stroke-width="1.35"/>
<line x1="336.50" y1="363.30" x2="343.50" y2="363.30" stroke="#111" stroke-width="1.35"/>
<g stroke-opacity="0.7">
<line x1="340.00" y1="364.80" x2="340.00" y2="367.50" stroke="#000" stroke-width="1.35"/>
<line x1="336.50" y1="367.50" x2="343.50" y2="367.50" stroke="#000" stroke-width="1.35"/>
</g>
<line x1="352.80" y1="314.20" x2="352.80" y2="336.70" stroke="#111" stroke-width="1.35"/>
<line x1="349.30" y1="314.20" x2="356.30" y2="314.20" stroke="#111" stroke-width="1.35"/>
<g stroke-opacity="0.7">
<line x1="352.80" y1="336.70" x2="352.80" y2="360.40" stroke="#000" stroke-width="1.35"/>
<line x1="349.30" y1="360.40" x2="356.30" y2="360.40" stroke="#000" stroke-width="1.35"/>
</g>
<line x1="382.30" y1="364.20" x2="382.30" y2="364.80" stroke="#111" stroke-width="1.35"/>
<line x1="378.80" y1="364.20" x2="385.80" y2="364.20" stroke="#111" stroke-width="1.35"/>
<g stroke-opacity="0.7">
<line x1="382.30" y1="364.80" x2="382.30" y2="365.40" stroke="#000" stroke-width="1.35"/>
<line x1="378.80" y1="365.40" x2="385.80" y2="365.40" stroke="#000" stroke-width="1.35"/>
</g>
<line x1="394.90" y1="319.40" x2="394.90" y2="328.10" stroke="#111" stroke-width="1.35"/>
<line x1="391.40" y1="319.40" x2="398.40" y2="319.40" stroke="#111" stroke-width="1.35"/>
<g stroke-opacity="0.7">
<line x1="394.90" y1="328.10" x2="394.90" y2="337.70" stroke="#000" stroke-width="1.35"/>
<line x1="391.40" y1="337.70" x2="398.40" y2="337.70" stroke="#000" stroke-width="1.35"/>
</g>
<line x1="436.20" y1="364.20" x2="436.20" y2="364.80" stroke="#111" stroke-width="1.35"/>
<line x1="432.70" y1="364.20" x2="439.70" y2="364.20" stroke="#111" stroke-width="1.35"/>
<g stroke-opacity="0.7">
<line x1="436.20" y1="364.80" x2="436.20" y2="365.40" stroke="#000" stroke-width="1.35"/>
<line x1="432.70" y1="365.40" x2="439.70" y2="365.40" stroke="#000" stroke-width="1.35"/>
</g>
<line x1="449.00" y1="355.60" x2="449.00" y2="356.30" stroke="#111" stroke-width="1.35"/>
<line x1="445.50" y1="355.60" x2="452.50" y2="355.60" stroke="#111" stroke-width="1.35"/>
<g stroke-opacity="0.7">
<line x1="449.00" y1="356.30" x2="449.00" y2="357.00" stroke="#000" stroke-width="1.35"/>
<line x1="445.50" y1="357.00" x2="452.50" y2="357.00" stroke="#000" stroke-width="1.35"/>
</g>
<line x1="478.30" y1="364.20" x2="478.30" y2="364.80" stroke="#111" stroke-width="1.35"/>
<line x1="474.80" y1="364.20" x2="481.80" y2="364.20" stroke="#111" stroke-width="1.35"/>
<g stroke-opacity="0.7">
<line x1="478.30" y1="364.80" x2="478.30" y2="365.40" stroke="#000" stroke-width="1.35"/>
<line x1="474.80" y1="365.40" x2="481.80" y2="365.40" stroke="#000" stroke-width="1.35"/>
</g>
<line x1="491.10" y1="297.70" x2="491.10" y2="305.00" stroke="#111" stroke-width="1.35"/>
<line x1="487.60" y1="297.70" x2="494.60" y2="297.70" stroke="#111" stroke-width="1.35"/>
<g stroke-opacity="0.7">
<line x1="491.10" y1="305.00" x2="491.10" y2="312.70" stroke="#000" stroke-width="1.35"/>
<line x1="487.60" y1="312.70" x2="494.60" y2="312.70" stroke="#000" stroke-width="1.35"/>
</g>
<circle cx="350.65" cy="309.40" r="1.25" fill="#000"/>
<circle cx="354.95" cy="309.40" r="1.25" fill="#000"/>
<circle cx="392.65" cy="314.80" r="1.25" fill="#000"/>
<circle cx="396.95" cy="314.80" r="1.25" fill="#000"/>
<circle cx="448.00" cy="348.90" r="1.25" fill="#000"/>
<circle cx="486.80" cy="291.20" r="1.25" fill="#000"/>
<circle cx="491.10" cy="291.20" r="1.25" fill="#000"/>
<circle cx="495.40" cy="291.20" r="1.25" fill="#000"/>
<rect x="327.70" y="260.40" width="11.10" height="11.10" fill="#2f4b7c"/>
<rect x="327.70" y="274.40" width="11.10" height="11.00" fill="#a8002c"/>
<text x="341.60" y="269.00" font-size="8.9" text-anchor="start" textLength="28.8" lengthAdjust="spacingAndGlyphs">- BMSC</text>
<text x="342.80" y="283.40" font-size="8.9" text-anchor="start" textLength="29.9" lengthAdjust="spacingAndGlyphs">+ BMSC</text>
<text x="346.00" y="434.00" font-size="9.2" text-anchor="middle" textLength="27.8" lengthAdjust="spacingAndGlyphs">AML#1</text>
<text x="388.60" y="434.00" font-size="9.2" text-anchor="middle" textLength="28.4" lengthAdjust="spacingAndGlyphs">AML#3</text>
<text x="442.60" y="434.00" font-size="9.2" text-anchor="middle" textLength="27.4" lengthAdjust="spacingAndGlyphs">AML#5</text>
<text x="483.60" y="435.50" font-size="9.2" text-anchor="middle" textLength="20.4" lengthAdjust="spacingAndGlyphs">OCI-</text>
<text x="484.60" y="445.70" font-size="9.2" text-anchor="middle" textLength="22.4" lengthAdjust="spacingAndGlyphs">AML3</text>
<text x="280.00" y="336.80" font-size="9.8" text-anchor="middle" textLength="110" lengthAdjust="spacingAndGlyphs" transform="rotate(-90 280.00 336.80)">Relative ATP luminescence</text>
<text x="291.80" y="337.40" font-size="9.8" text-anchor="middle" textLength="103.5" lengthAdjust="spacingAndGlyphs" transform="rotate(-90 291.80 337.40)">normalized per cell count</text>
<rect x="56.70" y="494.00" width="190.30" height="188.20" fill="none" stroke="#000" stroke-width="1.7"/>
<rect x="74.10" y="547.70" width="31.40" height="134.50" fill="#2f4b7c"/>
<rect x="104.70" y="577.60" width="30.60" height="104.60" fill="#a8002c"/>
<rect x="168.90" y="552.30" width="31.30" height="129.90" fill="#2f4b7c"/>
<rect x="199.40" y="595.60" width="30.70" height="86.60" fill="#a8002c"/>
<line x1="55.85" y1="682.20" x2="247.85" y2="682.20" stroke="#000" stroke-width="1.7"/>
<line x1="53.20" y1="682.20" x2="56.70" y2="682.20" stroke="#000" stroke-width="1.4"/>
<text x="50.70" y="685.40" font-size="9.0" text-anchor="end">0</text>
<line x1="53.20" y1="655.31" x2="56.70" y2="655.31" stroke="#000" stroke-width="1.4"/>
<text x="50.70" y="658.51" font-size="9.0" text-anchor="end">20</text>
<line x1="53.20" y1="628.43" x2="56.70" y2="628.43" stroke="#000" stroke-width="1.4"/>
<text x="50.70" y="631.63" font-size="9.0" text-anchor="end">40</text>
<line x1="53.20" y1="601.54" x2="56.70" y2="601.54" stroke="#000" stroke-width="1.4"/>
<text x="50.70" y="604.74" font-size="9.0" text-anchor="end">60</text>
<line x1="53.20" y1="574.66" x2="56.70" y2="574.66" stroke="#000" stroke-width="1.4"/>
<text x="50.70" y="577.86" font-size="9.0" text-anchor="end">80</text>
<line x1="53.20" y1="547.77" x2="56.70" y2="547.77" stroke="#000" stroke-width="1.4"/>
<text x="50.70" y="550.97" font-size="9.0" text-anchor="end">100</text>
<line x1="53.20" y1="520.89" x2="56.70" y2="520.89" stroke="#000" stroke-width="1.4"/>
<text x="50.70" y="524.09" font-size="9.0" text-anchor="end">120</text>
<line x1="53.20" y1="494.00" x2="56.70" y2="494.00" stroke="#000" stroke-width="1.4"/>
<text x="50.70" y="497.20" font-size="9.0" text-anchor="end">140</text>
<line x1="89.40" y1="544.70" x2="89.40" y2="547.70" stroke="#111" stroke-width="1.35"/>
<line x1="85.90" y1="544.70" x2="92.90" y2="544.70" stroke="#111" stroke-width="1.35"/>
<g stroke-opacity="0.7">
<line x1="89.40" y1="547.70" x2="89.40" y2="552.00" stroke="#000" stroke-width="1.35"/>
<line x1="85.90" y1="552.00" x2="92.90" y2="552.00" stroke="#000" stroke-width="1.35"/>
</g>
<line x1="120.00" y1="572.40" x2="120.00" y2="577.60" stroke="#111" stroke-width="1.35"/>
<line x1="116.50" y1="572.40" x2="123.50" y2="572.40" stroke="#111" stroke-width="1.35"/>
<g stroke-opacity="0.7">
<line x1="120.00" y1="577.60" x2="120.00" y2="583.70" stroke="#000" stroke-width="1.35"/>
<line x1="116.50" y1="583.70" x2="123.50" y2="583.70" stroke="#000" stroke-width="1.35"/>
</g>
<line x1="184.20" y1="536.30" x2="184.20" y2="552.30" stroke="#111" stroke-width="1.35"/>
<line x1="180.70" y1="536.30" x2="187.70" y2="536.30" stroke="#111" stroke-width="1.35"/>
<g stroke-opacity="0.7">
<line x1="184.20" y1="552.30" x2="184.20" y2="569.10" stroke="#000" stroke-width="1.35"/>
<line x1="180.70" y1="569.10" x2="187.70" y2="569.10" stroke="#000" stroke-width="1.35"/>
</g>
<line x1="214.80" y1="584.30" x2="214.80" y2="595.60" stroke="#111" stroke-width="1.35"/>
<line x1="211.30" y1="584.30" x2="218.30" y2="584.30" stroke="#111" stroke-width="1.35"/>
<g stroke-opacity="0.7">
<line x1="214.80" y1="595.60" x2="214.80" y2="607.20" stroke="#000" stroke-width="1.35"/>
<line x1="211.30" y1="607.20" x2="218.30" y2="607.20" stroke="#000" stroke-width="1.35"/>
</g>
<circle cx="115.90" cy="566.50" r="1.25" fill="#000"/>
<circle cx="120.20" cy="566.50" r="1.25" fill="#000"/>
<circle cx="124.50" cy="566.50" r="1.25" fill="#000"/>
<circle cx="210.50" cy="578.30" r="1.25" fill="#000"/>
<circle cx="214.80" cy="578.30" r="1.25" fill="#000"/>
<circle cx="219.10" cy="578.30" r="1.25" fill="#000"/>
<rect x="64.20" y="501.20" width="8.70" height="8.00" fill="#2f4b7c"/>
<rect x="64.20" y="515.00" width="8.70" height="7.30" fill="#a8002c"/>
<text x="75.60" y="508.40" font-size="8.8" text-anchor="start" textLength="40.8" lengthAdjust="spacingAndGlyphs">Control KD</text>
<text x="75.60" y="522.10" font-size="8.8" text-anchor="start" textLength="39.4" lengthAdjust="spacingAndGlyphs">NOX-2 KD</text>
<text x="105.00" y="696.20" font-size="9.4" text-anchor="middle" textLength="22.8" lengthAdjust="spacingAndGlyphs">Basal</text>
<text x="199.30" y="696.20" font-size="9.4" text-anchor="middle" textLength="17.3" lengthAdjust="spacingAndGlyphs">Max</text>
<text x="28.60" y="590.70" font-size="9.8" text-anchor="middle" textLength="150.5" lengthAdjust="spacingAndGlyphs" transform="rotate(-90 28.60 590.70)">% relative mitochondrial respiration</text>
</svg>
</body></html>
